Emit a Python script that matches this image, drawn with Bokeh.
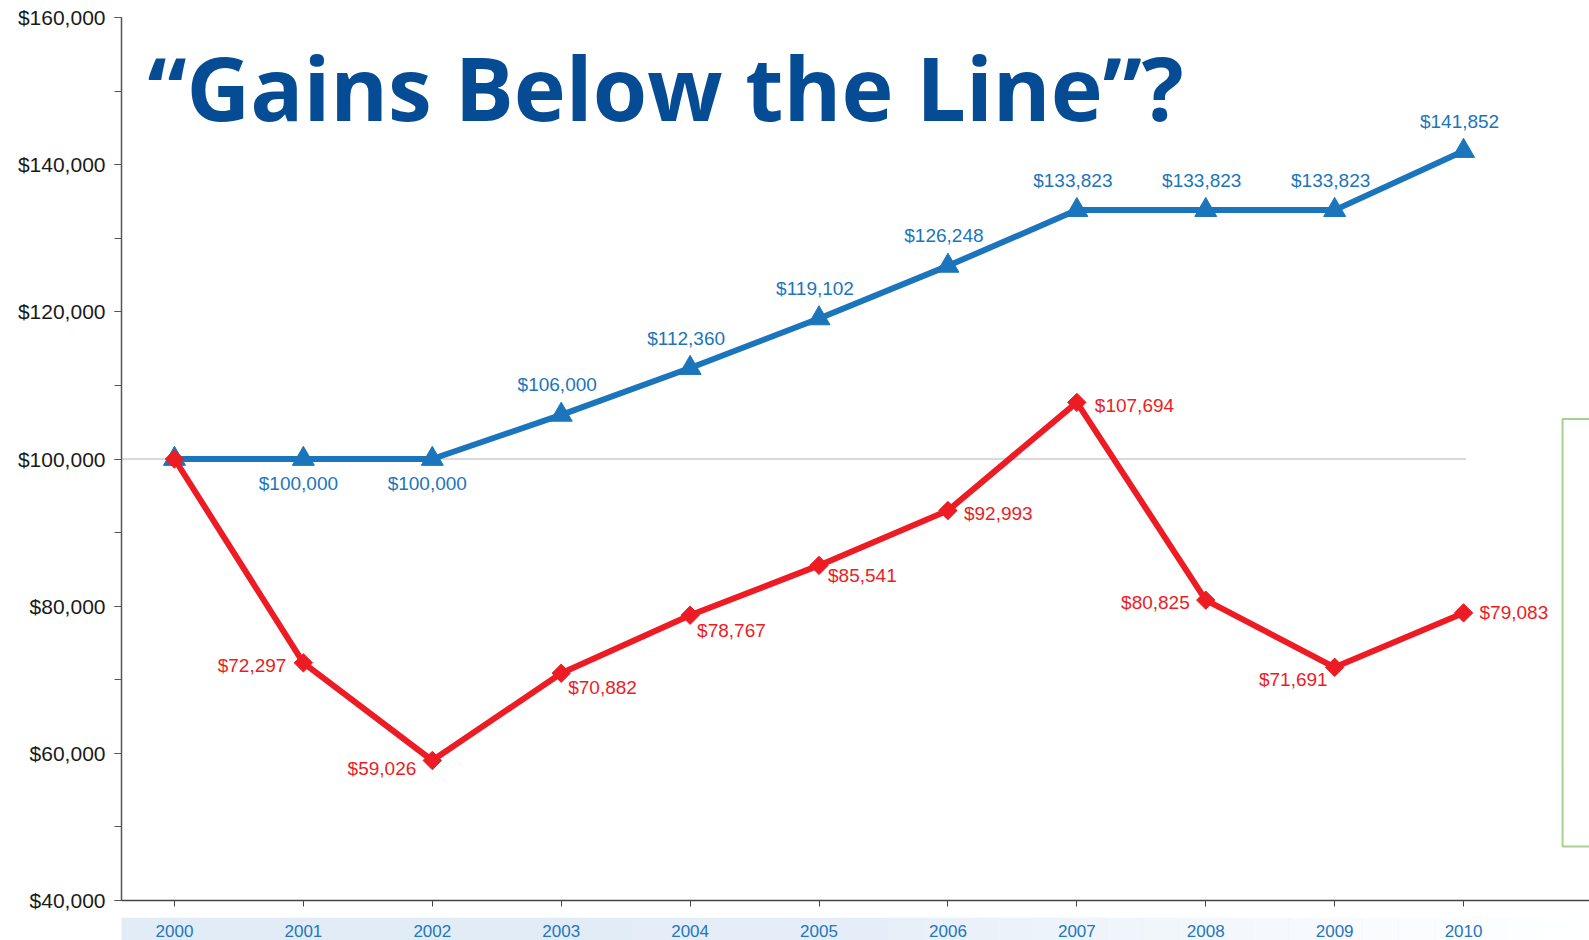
from bokeh.plotting import figure
from bokeh.layouts import column
from bokeh.models import (Range1d, FixedTicker, Label, BoxAnnotation,
                          ColumnDataSource, NumeralTickFormatter)
from bokeh.core.properties import value
from bokeh.embed import file_html
from bokeh.resources import INLINE
import numpy as np

# ---------------- data ----------------
years = [2000, 2001, 2002, 2003, 2004, 2005, 2006, 2007, 2008, 2009, 2010]
year_labels = [str(y) for y in years]
fixed_values = [100000, 100000, 100000, 106000, 112360, 119102, 126248,
                133823, 133823, 133823, 141852]
market_values = [100000, 72297, 59026, 70882, 78767, 85541, 92993,
                 107694, 80825, 71691, 79083]
y_ticks = [40000, 60000, 80000, 100000, 120000, 140000, 160000]
title_text = "\u201cGains Below the Line\u201d?"

# ---------------- styles ----------------
BLUE = "#1B75BC"
RED = "#ED1C24"
TITLE_BLUE = "#054C94"
YEAR_BLUE = "#2476BE"
LABEL_FONT = value("Liberation Sans")

# label placement (pixels) per point: (dx, dy, align); None = no label
blue_place = [None, (-5, 24, "center"), (-5, 24, "center")] + [(-4, -30, "center")] * 8
red_place = [None, (-17, 3, "right"), (-16, 8, "right"), (7, 14, "left"),
             (7, 15, "left"), (9, 10, "left"), (16, 3, "left"), (18, 3, "left"),
             (-16, 2, "right"), (-7, 12, "right"), (16, 0, "left")]

X0, X1 = 1999.589, 2010.977
Y0, Y1 = 40000, 160000
W = 1589
x_range = Range1d(X0, X1)

p = figure(width=W, height=917, output_backend="svg", toolbar_location=None,
           x_range=x_range, y_range=Range1d(Y0, Y1),
           min_border_left=121, min_border_right=0, min_border_top=17,
           min_border_bottom=17)
p.outline_line_color = None
p.grid.visible = False
p.background_fill_color = "white"
p.border_fill_color = "white"

# y axis
ya = p.yaxis[0]
ya.ticker = FixedTicker(ticks=y_ticks,
                        minor_ticks=list(range(40000, 160001, 10000)))
ya.formatter = NumeralTickFormatter(format="$0,0")
ya.major_label_text_font = "Liberation Sans"
ya.major_label_text_font_size = "21px"
ya.major_label_text_color = "#1a1a1a"
ya.major_label_standoff = 9
ya.axis_line_color = "#555555"
ya.axis_line_width = 1.5
ya.major_tick_line_color = "#555555"
ya.minor_tick_line_color = "#555555"
ya.major_tick_in = 0
ya.major_tick_out = 7
ya.minor_tick_in = 0
ya.minor_tick_out = 7

# x axis (line and ticks; the year labels sit in the band below)
xa = p.xaxis[0]
xa.ticker = FixedTicker(ticks=years, minor_ticks=[])
xa.major_label_text_color = None
xa.major_label_text_font_size = "1px"
xa.major_label_standoff = 0
xa.axis_line_color = "#444444"
xa.axis_line_width = 1.5
xa.major_tick_line_color = "#444444"
xa.major_tick_in = 0
xa.major_tick_out = 6

# green bordered box on the right
p.add_layout(BoxAnnotation(left=2010.768, right=2011.5, top=105440, bottom=47340,
                           fill_color=None, line_color="#A9D18E",
                           line_alpha=1.0, line_width=2))

# reference line at $100,000
p.segment(x0=[X0], x1=[2010.02], y0=[fixed_values[0]], y1=[fixed_values[0]],
          line_color="#CDCDCD", line_width=1.5)

# series
p.line(years, fixed_values, line_color=BLUE, line_width=6)
p.scatter(years, fixed_values, marker="triangle", size=22,
          fill_color=BLUE, line_color=BLUE)
p.line(years, market_values, line_color=RED, line_width=6)
p.scatter(years, market_values, marker="square", size=13, angle=np.pi / 4,
          fill_color=RED, line_color=RED)


def add_labels(vals, place, color):
    xs, ys, ts, dx, dy, al = [], [], [], [], [], []
    for yr, v, pl in zip(years, vals, place):
        if pl is None:
            continue
        xs.append(yr); ys.append(v); ts.append("${:,}".format(v))
        dx.append(pl[0]); dy.append(pl[1]); al.append(pl[2])
    src = ColumnDataSource(dict(x=xs, y=ys, t=ts, dx=dx, dy=dy, al=al))
    p.text(x="x", y="y", text="t", x_offset="dx", y_offset="dy",
           text_align="al", text_baseline="middle", source=src,
           text_font=LABEL_FONT, text_font_size="19px", text_color=color)


add_labels(fixed_values, blue_place, BLUE)
add_labels(market_values, red_place, RED)

# headline
p.add_layout(Label(x=1999.79, y=150500, text=title_text,
                   text_font="Open Sans", text_font_style="bold",
                   text_font_size="88px", text_color=TITLE_BLUE,
                   text_baseline="alphabetic"))

# ---------------- year band below the axis ----------------
b = figure(width=W, height=23, output_backend="svg", toolbar_location=None,
           x_range=x_range, y_range=Range1d(0, 1),
           min_border_left=121, min_border_right=0, min_border_top=0,
           min_border_bottom=0, x_axis_location=None, y_axis_location=None)
b.outline_line_color = None
b.grid.visible = False
b.background_fill_color = "white"
b.border_fill_color = "white"

band_right = 2010.92
stops = np.linspace(0, 1, 41)
lefts = X0 - 0.01 + (band_right - X0) * stops[:-1]
rights = X0 - 0.01 + (band_right - X0) * stops[1:] + 0.005
alphas = [1.0 if a < 0.5 else max(0.0, 1 - (a - 0.5) / 0.5) ** 1.2 for a in stops[:-1]]
cols = ["#E1ECF7" if a < 0.35 else "#E5EEF8" for a in stops[:-1]]
b.quad(left=lefts, right=rights, bottom=0, top=1, fill_color=cols,
       fill_alpha=alphas, line_color=None)
b.text(x=years, y=[0.43] * len(years), text=year_labels,
       text_align="center", text_baseline="middle", text_font=LABEL_FONT,
       text_font_size="17px", text_color=YEAR_BLUE)

layout = column(p, b, spacing=0)
open("out.html", "w").write(file_html(layout, INLINE))
